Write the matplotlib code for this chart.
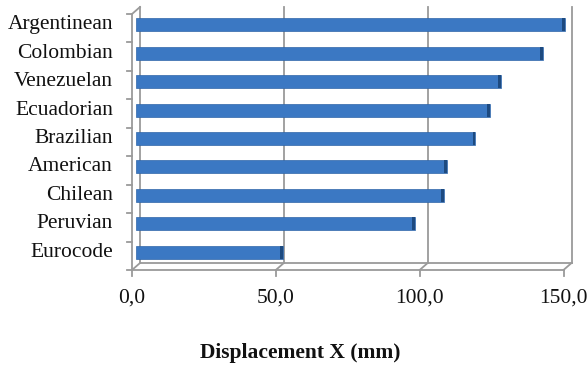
import numpy as np
import matplotlib.pyplot as plt
from matplotlib.transforms import offset_copy, IdentityTransform
from matplotlib.lines import Line2D

# Displacement X per code, listed from the top bar down
codes = ['Argentinean', 'Colombian', 'Venezuelan', 'Ecuadorian', 'Brazilian',
         'American', 'Chilean', 'Peruvian', 'Eurocode']
disp_x = [149.0, 141.5, 126.8, 123.0, 118.0, 108.0, 107.0, 97.0, 51.0]
x_ticks = [0, 50, 100, 150]
x_ticklabels = ['0,0', '50,0', '100,0', '150,0']

plt.rcParams['font.family'] = ['Liberation Serif', 'DejaVu Serif']

W, H = 588, 367
fig = plt.figure(figsize=(W / 100, H / 100), dpi=100)
fig.patch.set_facecolor('white')

# axes box in pixels (bars sit at mid depth of the 3d box)
left_px, right_px, top_px, bot_px = 136, 567.5, 10.5, 266.5
ax = fig.add_axes([left_px / W, 1 - bot_px / H,
                   (right_px - left_px) / W, (bot_px - top_px) / H])
ax.set_xlim(0, 150)
n = len(codes)
ax.set_ylim(-0.5, n - 0.5)
ax.axis('off')

# depth offsets in pixels
DX, DY = 4, 3.5
back = offset_copy(ax.transData, fig=fig, x=DX, y=DY, units='dots')
front = offset_copy(ax.transData, fig=fig, x=-DX, y=-DY, units='dots')
grid_c = '#9a9a9a'
lw = 1.3
txt_c = '#111111'

# back wall: gridlines and floor edge
for xv in x_ticks:
    ax.plot([xv, xv], [-0.5, n - 0.5], color=grid_c, lw=lw, transform=back,
            clip_on=False, zorder=1)
ax.plot([0, 150], [-0.5, -0.5], color=grid_c, lw=lw, transform=back, clip_on=False, zorder=1)

# front edges
ax.plot([0, 0], [-0.5, n - 0.5], color=grid_c, lw=lw, transform=front, clip_on=False, zorder=1)
ax.plot([0, 150], [-0.5, -0.5], color=grid_c, lw=lw, transform=front, clip_on=False, zorder=1)


def px(x, y):
    return ax.transData.transform((x, y))


ident = IdentityTransform()
# diagonals joining front and back corners
for xv, yv in [(0, -0.5), (50, -0.5), (100, -0.5), (150, -0.5), (0, n - 0.5)]:
    cx, cy = px(xv, yv)
    fig.add_artist(Line2D([cx - DX, cx + DX], [cy - DY, cy + DY], color=grid_c,
                          lw=lw, transform=ident))

# tick marks
for xv, lab in zip(x_ticks, x_ticklabels):
    cx, cy = px(xv, -0.5)
    fig.add_artist(Line2D([cx - DX, cx - DX], [cy - DY, cy - DY - 6], color=grid_c,
                          lw=lw, transform=ident))
    fig.text((cx - DX) / W, 69 / H, lab, ha='center', va='center', fontsize=15.5,
             color=txt_c)
for k in range(n + 1):
    cx, cy = px(0, k - 0.5)
    fig.add_artist(Line2D([cx - DX - 5, cx - DX], [cy - DY, cy - DY], color=grid_c,
                          lw=lw, transform=ident))

# bars, top to bottom
ypos = np.arange(n)[::-1]
ax.barh(ypos, disp_x, height=0.46, color='#3b78c3', edgecolor='#2f66a8',
        linewidth=0.5, zorder=3)
ax.barh(ypos, [1.0] * n, left=np.array(disp_x) - 1.0, height=0.46,
        color='#1d4a80', linewidth=0, zorder=4)

for yv, name in zip(ypos, codes):
    cx, cy = px(0, yv)
    fig.text((cx - 23) / W, cy / H, name, ha='right', va='center', fontsize=15.5,
             color=txt_c)

fig.text(300 / W, 1 - 353 / H, 'Displacement X (mm)', ha='center', va='center',
         fontsize=15.5, fontweight='bold', color=txt_c)

fig.savefig('out.png', dpi=100)
